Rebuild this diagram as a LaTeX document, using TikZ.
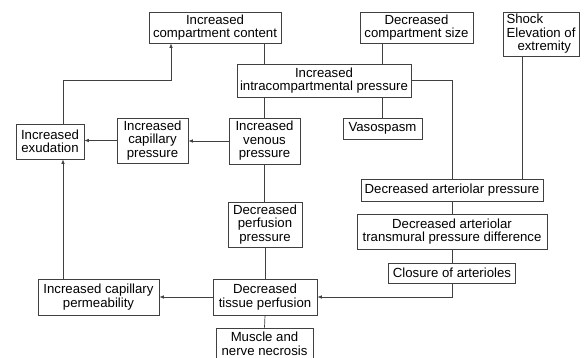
\documentclass[tikz,border=0pt]{standalone}
\usepackage{fontspec}
\setmainfont{Liberation Sans}
\usepackage{tikz}
\usetikzlibrary{arrows.meta, positioning}

\begin{document}
\begin{tikzpicture}[x=1pt, y=-1pt,
    box/.style={draw=black!75, line width=0.7pt, align=center, inner sep=2pt,
        font=\fontsize{13.2}{13.5}\selectfont, text=black},
    link/.style={draw=black!75, line width=0.7pt},
    arr/.style={link, -{Latex[length=4.5pt, width=3.5pt]}}]
    \useasboundingbox (0,0) rectangle (584,358);

    % Top row of causes
    \node[box, minimum width=132pt, minimum height=31pt] (content) at (215,27.5) {Increased\\compartment content};
    \node[box, minimum width=113pt, minimum height=31pt] (size) at (416.5,27.5) {Decreased\\compartment size};
    \node[box, align=left, minimum width=76pt, minimum height=44pt] (shock) at (541,34) {Shock\\Elevation of\\\hspace*{11pt}extremity};
    \node[box, minimum width=174pt, minimum height=33pt] (intra) at (324,80.5) {Increased\\intracompartmental pressure};
    \node[box, minimum width=79pt, minimum height=21pt] (vaso) at (382.5,128.5) {Vasospasm};

    % Venous side
    \node[box, minimum width=71pt, minimum height=46pt] (venous) at (264.5,141) {Increased\\venous\\pressure};
    \node[box, minimum width=71pt, minimum height=45pt] (cappres) at (152.5,140.5) {Increased\\capillary\\pressure};
    \node[box, minimum width=68pt, minimum height=35pt] (exud) at (50,141.5) {Increased\\exudation};
    \node[box, minimum width=74pt, minimum height=45pt] (perf) at (265,224.5) {Decreased\\perfusion\\pressure};
    \node[box, minimum width=121pt, minimum height=36pt] (perm) at (98.5,297) {Increased capillary\\permeability};
    \node[box, minimum width=104pt, minimum height=36pt] (tissue) at (265,297) {Decreased\\tissue perfusion};
    \node[box, minimum width=97pt, minimum height=32pt] (necro) at (264.5,344) {Muscle and\\nerve necrosis};

    % Arteriolar side
    \node[box, minimum width=182pt, minimum height=22pt] (artpres) at (452,190) {Decreased arteriolar pressure};
    \node[box, minimum width=190pt, minimum height=35pt] (transm) at (452,231.5) {Decreased arteriolar\\transmural pressure difference};
    \node[box, minimum width=127pt, minimum height=20pt] (closure) at (452,273) {Closure of arterioles};

    \coordinate (shockfoot) at ([xshift=-19pt]shock.south);
    \coordinate (extop) at ([xshift=13pt]exud.north);
    \coordinate (exfoot) at ([xshift=13pt]exud.south);
    \coordinate (bend) at (171,80);

    % Connectors
    \draw[link] (content.south -| venous.north) -- (intra.north -| venous.north);
    \draw[link] (size.south -| vaso.north) -- (intra.north -| vaso.north);
    \draw[link] (intra.south -| venous.north) -- (venous.north);
    \draw[link] (intra.south -| vaso.north) -- (vaso.north);
    \draw[link] (intra.east) -| (artpres.north);
    \draw[link] (shockfoot) -- (artpres.north -| shockfoot);
    \draw[link] (artpres.south) -- (transm.north);
    \draw[link] (transm.south) -- (closure.north);
    \draw[arr] (closure.south) |- (tissue.east);
    \draw[arr] (venous.west) -- (venous.west -| cappres.east);
    \draw[arr] (cappres.west) -- (cappres.west -| exud.east);
    \draw[arr] (extop) |- (bend) -- (bend |- content.south);
    \draw[link] (venous.south) -- (perf.north -| venous.south);
    \draw[link] (perf.south) -- (tissue.north);
    \draw[arr] (tissue.west) -- (perm.east);
    \draw[arr] (perm.north -| exfoot) -- (exfoot);
    \draw[link] (tissue.south) -- (necro.north);
\end{tikzpicture}
\end{document}
